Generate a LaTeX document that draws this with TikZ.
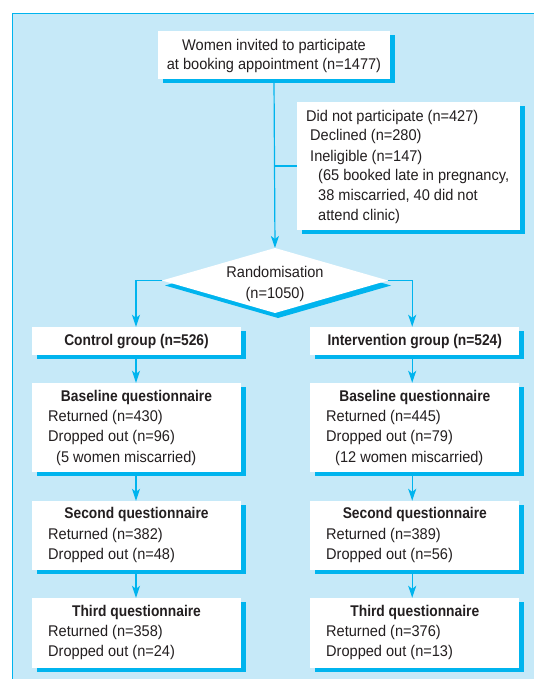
\documentclass[tikz,border=0pt]{standalone}
\usepackage{fontspec}
\setmainfont{Liberation Sans}[FakeStretch=0.94, BoldFeatures={FakeStretch=0.89}]
\usetikzlibrary{arrows.meta,shadows,calc}
\definecolor{bgblue}{HTML}{C6E9F8}
\definecolor{cyanline}{HTML}{00B4EE}
\definecolor{txt}{HTML}{231F20}
\tikzset{
  box/.style={draw=none, fill=white, inner sep=0pt,
    drop shadow={shadow xshift=5pt, shadow yshift=-4pt, fill=cyanline, opacity=1}},
  dshape/.style={draw=none, fill=white, inner sep=0pt,
    drop shadow={shadow xshift=3pt, shadow yshift=-5pt, fill=cyanline, opacity=1}},
  lbl/.style={inner sep=0pt, anchor=base west, text=txt, font=\fontsize{15.5}{20}\selectfont},
  clbl/.style={lbl, anchor=base},
  blbl/.style={clbl, font=\fontsize{15.5}{20}\selectfont\bfseries},
  conn/.style={draw=cyanline, line width=1.2pt},
  arr/.style={conn, -{Stealth[length=12pt,width=8pt,inset=3pt]}}
}
\begin{document}
\begin{tikzpicture}[x=1pt,y=-1pt]
\useasboundingbox (0,0) rectangle (533,679);
\draw[cyanline, line width=1.3pt, fill=bgblue] (12.5,13.5) rectangle (600,720);

% boxes
\node[box, minimum width=232pt, minimum height=48pt] (tb) at (274,55) {};
\node[box, minimum width=223pt, minimum height=128pt] (dnp) at (408.5,166) {};
\path[dshape] (162,280.5) -- (275,248) -- (388,280.5) -- (275,313) -- cycle;
\coordinate (rand) at (275,280.5);
\coordinate (randN) at (275,248);
\coordinate (randW) at (162,280.5);
\coordinate (randE) at (388,280.5);

\node[box, minimum width=208.5pt, minimum height=28pt] (ctrl) at (136.5,341) {};
\node[box, minimum width=209pt, minimum height=28pt] (intv) at (414.8,341) {};
\node[box, minimum width=208.5pt, minimum height=89pt] (cb1) at (136.5,427.5) {};
\node[box, minimum width=209pt, minimum height=89pt] (ib1) at (414.8,427.5) {};
\node[box, minimum width=208.5pt, minimum height=69pt] (cb2) at (136.5,535.5) {};
\node[box, minimum width=209pt, minimum height=69pt] (ib2) at (414.8,535.5) {};
\node[box, minimum width=208.5pt, minimum height=70pt] (cb3) at (136.5,633) {};
\node[box, minimum width=209pt, minimum height=70pt] (ib3) at (414.8,633) {};

% texts
\node[clbl] (t1) at (274,50.5) {Women invited to participate};
\node[clbl] (t2) at (274,70) {at booking appointment (n=1477)};

\node[lbl] (d1) at (306,121.5) {Did not participate (n=427)};
\node[lbl] (d2) at (310,141) {Declined (n=280)};
\node[lbl] (d3) at (310,161) {Ineligible (n=147)};
\node[lbl] (d4) at (318,180.5) {(65 booked late in pregnancy,};
\node[lbl] (d5) at (318,200.5) {38 miscarried, 40 did not};
\node[lbl] (d6) at (318,220.5) {attend clinic)};

\node[clbl] (r1) at (275,277.5) {Randomisation};
\node[clbl] (r2) at (275,298.5) {(n=1050)};

\node[blbl] (c0) at (136.5,345.5) {Control group (n=526)};
\node[blbl] (i0) at (414.8,345.5) {Intervention group (n=524)};

\node[blbl] (c1h) at (136.5,401.5) {Baseline questionnaire};
\node[lbl] (c1a) at (48,421.5) {Returned (n=430)};
\node[lbl] (c1b) at (48,441.5) {Dropped out (n=96)};
\node[lbl] (c1c) at (56,462) {(5 women miscarried)};
\node[blbl] (i1h) at (414.8,401.5) {Baseline questionnaire};
\node[lbl] (i1a) at (326,421.5) {Returned (n=445)};
\node[lbl] (i1b) at (326,441.5) {Dropped out (n=79)};
\node[lbl] (i1c) at (335,462) {(12 women miscarried)};

\node[blbl] (c2h) at (136.5,518.5) {Second questionnaire};
\node[lbl] (c2a) at (48,539.5) {Returned (n=382)};
\node[lbl] (c2b) at (48,559.5) {Dropped out (n=48)};
\node[blbl] (i2h) at (414.8,518.5) {Second questionnaire};
\node[lbl] (i2a) at (326,539.5) {Returned (n=389)};
\node[lbl] (i2b) at (326,559.5) {Dropped out (n=56)};

\node[blbl] (c3h) at (136.5,616.5) {Third questionnaire};
\node[lbl] (c3a) at (48,636.5) {Returned (n=358)};
\node[lbl] (c3b) at (48,656.5) {Dropped out (n=24)};
\node[blbl] (i3h) at (414.8,616.5) {Third questionnaire};
\node[lbl] (i3a) at (326,636.5) {Returned (n=376)};
\node[lbl] (i3b) at (326,656.5) {Dropped out (n=13)};

% connectors
\draw[arr] (tb.south) -- (randN);
\draw[conn] (dnp.west) -- (dnp.west -| tb.south);
\draw[arr] (randW) -| ([xshift=-0.5pt]ctrl.north);
\draw[arr] (randE) -| ([xshift=-2.6pt]intv.north);
\draw[arr] ([xshift=-0.5pt]ctrl.south) -- ([xshift=-0.5pt]cb1.north);
\draw[arr] ([xshift=-0.5pt]cb1.south) -- ([xshift=-0.5pt]cb2.north);
\draw[arr] ([xshift=-0.5pt]cb2.south) -- ([xshift=-0.5pt]cb3.north);
\draw[arr] ([xshift=-2.6pt]intv.south) -- ([xshift=-2.6pt]ib1.north);
\draw[arr] ([xshift=-2.6pt]ib1.south) -- ([xshift=-2.6pt]ib2.north);
\draw[arr] ([xshift=-2.6pt]ib2.south) -- ([xshift=-2.6pt]ib3.north);
\end{tikzpicture}
\end{document}
